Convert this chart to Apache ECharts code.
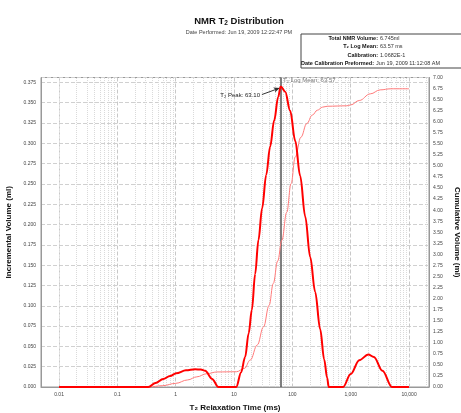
<!DOCTYPE html>
<html>
<head>
<meta charset="utf-8">
<script src="https://cdn.jsdelivr.net/npm/echarts@6/dist/echarts.min.js"></script>
<style>
  html, body { margin: 0; padding: 0; background: #fff; }
  #chart { width: 461px; height: 413px; }
</style>
</head>
<body>
<div id="chart"></div>
<script>
// T2 times (ms) and incremental volume (ml)
var incTimes = [0.01, 0.34, 0.45, 0.61, 0.8, 1.02, 1.5, 2.15, 2.7, 3.2, 4.2, 5.4, 10.9,
  13.2, 15.5, 17.8, 20.2, 23, 26.2, 30.3, 35.6, 41.6, 48.7, 57.1, 63.1,
  75.3, 91.6, 112, 136, 166, 202, 246, 300, 351, 395, 420,
  740, 1000, 1400, 2000, 2500, 3500, 5100, 10000];
var incVolume = [0, 0, 0.005, 0.0099, 0.0135, 0.0169, 0.0205, 0.0218, 0.0215, 0.020, 0.010, 0, 0,
  0.018, 0.037, 0.066, 0.095, 0.139, 0.181, 0.220, 0.261, 0.296, 0.328, 0.357, 0.370,
  0.3635, 0.340, 0.303, 0.260, 0.210, 0.160, 0.117, 0.071, 0.034, 0.011, 0,
  0, 0.016, 0.033, 0.040, 0.037, 0.020, 0, 0];

// cumulative volume (ml)
var cumTimes = [0.01, 0.34, 0.6, 1.0, 1.6, 2.3, 3.4, 5.1, 11, 15, 19, 25, 32, 40, 47, 56, 66,
  80, 95, 112, 140, 177, 220, 268, 330, 400, 860, 1000, 1400, 2170, 3200, 4900, 10000];
var cumVolume = [0, 0, 0.03, 0.083, 0.16, 0.23, 0.30, 0.34, 0.345, 0.42, 0.61, 0.95, 1.36, 1.85, 2.34, 2.85, 3.32,
  3.95, 4.6, 5.20, 5.65, 5.96, 6.15, 6.26, 6.33, 6.35, 6.36, 6.38, 6.48, 6.63, 6.72, 6.745, 6.745];

var decades = [-3, -2, -1, 0, 1, 2, 3, 4];
var minorSteps = [2, 3, 4, 5, 6, 7, 8, 9];
var logMean = 63.57;
var peakT2 = 63.1;

var infoLabels = ["Total NMR Volume:", "T\u2082 Log Mean:", "Calibration:", "Date Calibration Preformed:"];
var infoValues = ["6.745ml", "63.57 ms", "1.0682E-1", "Jun 19, 2009 11:12:08 AM"];

var xMin = 0.0049, xMax = 22000;

var minorLines = [];
decades.forEach(function (d) {
  minorSteps.forEach(function (m) {
    var v = m * Math.pow(10, d);
    if (v > xMin && v < xMax) minorLines.push({ xAxis: v });
  });
});

var font = "Liberation Sans";
var chart = echarts.init(document.getElementById("chart"));

var infoChildren = [{
  type: "rect",
  shape: { x: 0, y: 0, width: 170, height: 34 },
  style: { fill: "#fff", stroke: "#444", lineWidth: 1 }
}];
infoLabels.forEach(function (lab, i) {
  infoChildren.push({
    type: "text", x: i === 3 ? 73 : 77, y: 4.5 + i * 8.3,
    style: { text: lab, align: "right", verticalAlign: "middle", fontSize: 5.5, fontWeight: "bold", fontFamily: font, fill: "#111" }
  });
  infoChildren.push({
    type: "text", x: i === 3 ? 75 : 79, y: 4.5 + i * 8.3,
    style: { text: infoValues[i], align: "left", verticalAlign: "middle", fontSize: 5.5, fontFamily: font, fill: "#333" }
  });
});

chart.setOption({
  animation: false,
  textStyle: { fontFamily: font },
  title: {
    text: "NMR T{sub|2} Distribution",
    subtext: "Date Performed: Jun 19, 2009 12:22:47 PM",
    left: 234, textAlign: "center", top: 10, itemGap: 3,
    textStyle: {
      fontSize: 9.5, fontWeight: "bold", color: "#111", fontFamily: font,
      rich: { sub: { fontSize: 6.5, fontWeight: "bold", verticalAlign: "bottom", padding: [5, 0, 0, 0] } }
    },
    subtextStyle: { fontSize: 5.5, color: "#444", fontFamily: font }
  },
  graphic: [{ type: "group", x: 301, y: 34, children: infoChildren }],
  grid: { left: 41, right: 32, top: 77.5, bottom: 26, outerBoundsMode: "none",
    show: true, borderColor: "#999", borderWidth: 1 },
  xAxis: {
    type: "log", min: xMin, max: xMax,
    name: "T\u2082 Relaxation Time (ms)", nameLocation: "middle", nameGap: 17,
    nameTextStyle: { fontSize: 8, fontWeight: "bold", color: "#111" },
    axisLine: { lineStyle: { color: "#999" } },
    axisTick: { show: false },
    axisLabel: {
      fontSize: 5, color: "#444", margin: 5, showMinLabel: false, showMaxLabel: false,
      formatter: function (v) { return v >= 1000 ? v.toLocaleString("en-US") : String(+v.toPrecision(3)); }
    },
    splitLine: { show: true, lineStyle: { color: "#c8c8c8", type: "dashed", width: 1 } }
  },
  yAxis: [{
    type: "value", min: 0, max: 0.381, interval: 0.025,
    name: "Incremental Volume (ml)", nameLocation: "middle", nameGap: 25, nameRotate: 90,
    nameTextStyle: { fontSize: 8, fontWeight: "bold", color: "#111" },
    axisLine: { show: true, lineStyle: { color: "#999" } },
    axisTick: { show: false },
    axisLabel: { fontSize: 5, color: "#444", margin: 5, showMaxLabel: false,
      formatter: function (v) { return v.toFixed(3); } },
    splitLine: { lineStyle: { color: "#d0d0d0", type: "dashed" } }
  }, {
    type: "value", min: 0, max: 7, interval: 0.25, position: "right",
    name: "Cumulative Volume (ml)", nameLocation: "middle", nameGap: 18, nameRotate: -90,
    nameTextStyle: { fontSize: 8, fontWeight: "bold", color: "#111" },
    axisLine: { show: true, lineStyle: { color: "#999" } },
    axisTick: { show: false },
    axisLabel: { fontSize: 5, color: "#444", margin: 4,
      formatter: function (v) { return v.toFixed(2); } },
    splitLine: { show: false }
  }],
  series: [{
    // minor grid lines at 2..9 x 10^n
    type: "line", data: [], silent: true, z: 0,
    markLine: {
      silent: true, symbol: ["none", "none"], label: { show: false },
      lineStyle: { color: "#dadada", type: "dotted", width: 1 },
      data: minorLines
    }
  }, {
    name: "Cumulative", type: "line", yAxisIndex: 1, z: 5,
    data: cumTimes.map(function (t, i) { return [t, cumVolume[i]]; }),
    showSymbol: false, smooth: 0.4, smoothMonotone: "x",
    lineStyle: { color: "#ff7a7a", width: 1 }
  }, {
    name: "Incremental", type: "line", yAxisIndex: 0, z: 6,
    data: incTimes.map(function (t, i) { return [t, incVolume[i]]; }),
    showSymbol: false, smooth: 0.35, smoothMonotone: "x",
    lineStyle: { color: "#ff0000", width: 2 },
    markLine: {
      silent: true, animation: false, symbol: ["none", "none"],
      data: [
        { xAxis: logMean, lineStyle: { color: "#555", width: 1.5, type: "solid" }, label: { show: false } },
        [{ coord: [30, 0.360] },
         { coord: [peakT2 * 0.96, 0.368], symbol: "arrow", symbolSize: [4, 6] }]
      ],
      lineStyle: { color: "#333", width: 1, type: "solid" },
      label: { show: true, position: "start", formatter: "T\u2082 Peak: " + peakT2.toFixed(2),
        fontSize: 6, color: "#222", distance: 2 }
    },
    markPoint: {
      silent: true,
      data: [{ coord: [logMean, 0.381], symbol: "circle", symbolSize: 0,
        label: { show: true, position: "right", distance: 2, offset: [0, 3],
          formatter: "T\u2082 Log Mean: " + logMean, fontSize: 6, color: "#777" } }]
    }
  }]
});
</script>
</body>
</html>
